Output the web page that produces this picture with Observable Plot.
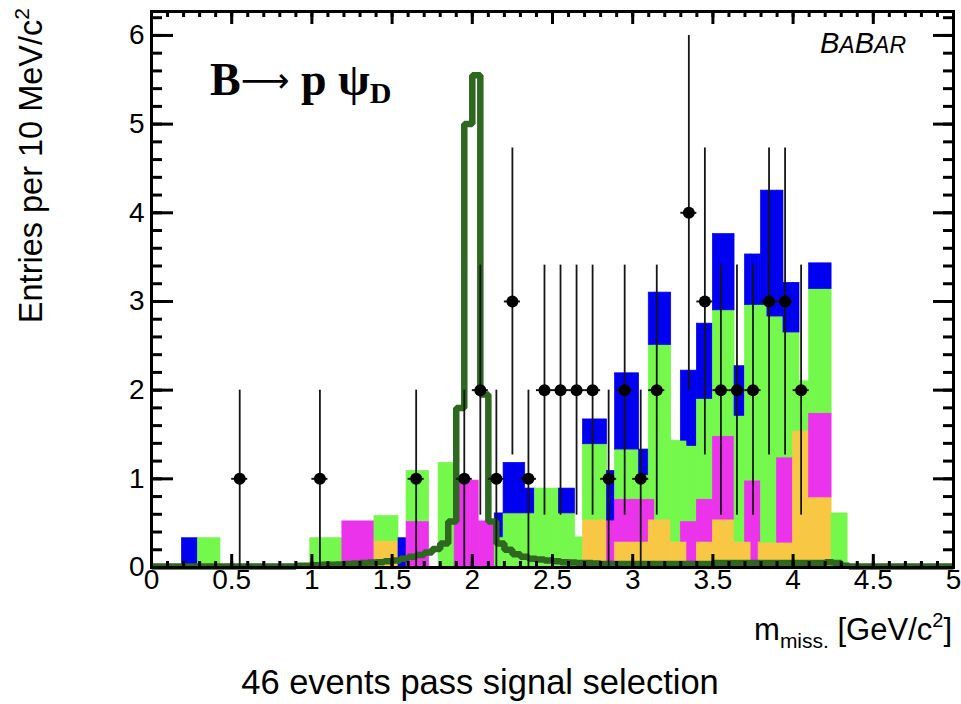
<!DOCTYPE html>
<html><head><meta charset="utf-8">
<script src="https://cdn.jsdelivr.net/npm/d3@7"></script>
<script src="https://cdn.jsdelivr.net/npm/@observablehq/plot@0.6"></script>
<style>body{margin:0;background:#fff;} svg{display:block}</style>
</head><body><div id="chart"></div>
<script>
// ---- Background MC stack (bin edges in GeV/c^2, contents per component) ----
const binLo = [0.19,0.29,0.99,1.19,1.39,1.54,1.59,1.79,1.89,2.04,2.14,2.195,2.33,2.39,2.54,2.64,2.69,2.84,2.89,3.04,3.10,3.14,3.24,3.30,3.34,3.40,3.50,3.635,3.70,3.74,3.785,3.80,3.84,3.90,3.94,4.00,4.04,4.10,4.24];
const binHi = [0.29,0.43,1.19,1.39,1.54,1.59,1.73,1.89,2.04,2.14,2.195,2.33,2.39,2.54,2.64,2.69,2.84,2.89,3.04,3.10,3.14,3.24,3.30,3.34,3.40,3.50,3.635,3.70,3.74,3.785,3.80,3.84,3.90,3.94,4.00,4.04,4.10,4.24,4.34];
const bkgYellow  = [0,0,0,0,0.30,0,0,0,0,0,0,0,0,0,0,0,0.54,0,0.29,0.29,0.54,0.54,0.29,0.29,0,0.29,0.54,0.29,0.29,0,0.29,0.28,0.28,0.28,0.28,1.54,1.54,0.79,0];
const bkgMagenta = [0,0,0,0.52,0,0,0.52,0,0.98,0.52,0,0,0,0,0,0,0,0.53,0.48,0.48,0.23,0,0,0.23,0.52,0.48,0.94,0,0.69,0.98,0.69,0,0,0.96,0.96,0,0,0.95,0];
const bkgGreen   = [0,0.33,0.33,0,0.28,0,0.57,1.18,0,0,0.34,0.61,0.61,0.89,0.61,0.34,0.85,0,0.56,0.27,1.74,1.97,1.14,0.91,0.85,1.13,1.42,1.42,1.98,1.98,1.98,2.68,2.55,1.59,1.41,1.11,0.56,1.40,0.61];
const bkgBlue    = [0.33,0,0,0,0,0.33,0,0,0,0,0.27,0.57,0.28,0,0.28,0,0.28,0.56,0.86,0.29,0.59,0.59,0,0.79,0.85,0.85,0.86,0.56,0.57,0.57,0.57,1.29,1.42,1.42,0.56,0.56,0,0.29,0];

// ---- Data points ----
const dataX   = [0.55,1.05,1.65,1.95,2.05,2.15,2.25,2.35,2.45,2.55,2.65,2.75,2.85,2.95,3.05,3.15,3.35,3.45,3.55,3.65,3.75,3.85,3.95,4.05];
const dataN   = [1,1,1,1,2,1,3,1,2,2,2,2,1,2,1,2,4,3,2,2,2,3,3,2];
const dataErr = [1,1,1,1,1.41,1,1.73,1,1.41,1.41,1.41,1.41,1,1.41,1,1.41,2,1.73,1.41,1.41,1.41,1.73,1.73,1.41];
const dataXErr = 0.05;

// ---- Signal shape B -> p psi_D (bins of 0.05 from 0 to 5) ----
const signalBinWidth = 0.05;
const signalVals = [
  0.01,0.01,0.01,0.01,0.01,0.01,0.01,0.01,0.01,0.01,0.01,0.01,0.01,0.01,0.01,0.01,0.01,0.01,
  0.02,0.02,0.025,0.03,0.03,0.035,0.04,0.045,0.05,0.055,0.06,0.07,0.08,0.10,0.12,0.14,0.17,0.21,0.27,0.52,
  1.80,5.00,5.55,1.95,0.52,0.27,0.20,0.15,0.12,0.10,0.09,0.08,0.07,0.06,0.055,0.05,0.05,0.045,
  0.04,0.04,0.04,0.04,0.04,0.04,0.04,0.04,
  0.04,0.04,0.04,0.04,0.04,0.04,
  0.05,0.05,0.05,0.05,0.05,0.05,0.05,0.05,0.05,0.05,0.05,0.05,0.05,0.05,
  0.06,0.05,0.02,
  0.01,0.01,0.01,0.01,0.01,0.01,0.01,0.01,0.01,0.01,0.01,0.01,0.01
];

// ---- Axis ticks ----
const xTickLabels = [0,0.5,1,1.5,2,2.5,3,3.5,4,4.5,5];
const yTickLabels = [0,1,2,3,4,5,6];
const xMinorTicks = d3.range(0, 5.001, 0.1);
const yMinorTicks = d3.range(0, 6.27, 0.2);

const components = ["bkgA","bkgB","bkgC","bkgD"];
const compColors = ["#f8c844","#ea33ea","#74f84b","#0000f0"];
const compValues = [bkgYellow, bkgMagenta, bkgGreen, bkgBlue];

// build stacked rect table
const rects = [];
binLo.forEach((lo, i) => {
  let cum = 0;
  components.forEach((c, k) => {
    const h = compValues[k][i];
    if (h > 0) { rects.push({x1: lo, x2: binHi[i], y1: cum, y2: cum + h, comp: c}); cum += h; }
  });
});

const sigPts = signalVals.map((v, i) => ({x: i * signalBinWidth, y: v}));
sigPts.push({x: 5, y: signalVals[signalVals.length - 1]});

const points = dataX.map((x, i) => ({x, n: dataN[i], e: dataErr[i]}));

const W = 961, H = 704, mL = 151, mR = 8, mT = 11, mB = 137;
const fw = W - mL - mR, fh = H - mT - mB;

const chart = Plot.plot({
  width: W, height: H,
  marginLeft: mL, marginRight: mR, marginTop: mT, marginBottom: mB,
  style: {fontFamily: "'Liberation Sans', Arial, sans-serif", fontSize: "28px", background: "#fff", color: "#000"},
  x: {domain: [0, 5]},
  y: {domain: [0, 6.27]},
  color: {type: "ordinal", domain: components, range: compColors},
  marks: [
    Plot.rect(rects, {x1: "x1", x2: "x2", y1: "y1", y2: "y2", fill: "comp", stroke: "comp", strokeWidth: 0.7}),
    Plot.line(sigPts, {x: "x", y: "y", curve: "step-after", stroke: "#2e6820", strokeWidth: 6.5, strokeLinejoin: "miter", strokeLinecap: "butt"}),
    Plot.ruleX(points, {x: "x", y1: d => d.n - d.e, y2: d => d.n + d.e, stroke: "#151515", strokeWidth: 1.8}),
    Plot.ruleY(points, {y: "n", x1: d => d.x - dataXErr, x2: d => d.x + dataXErr, stroke: "#151515", strokeWidth: 2}),
    Plot.dot(points, {x: "x", y: "n", r: 6, fill: "#000", stroke: null}),
    // inward ticks
    Plot.tickX(xMinorTicks, {x: d => d, insetTop: fh - 6, stroke: "#000", strokeWidth: 3}),
    Plot.tickX(xTickLabels, {x: d => d, insetTop: fh - 13, stroke: "#000", strokeWidth: 3}),
    Plot.tickX(xMinorTicks, {x: d => d, insetBottom: fh - 6, stroke: "#000", strokeWidth: 3}),
    Plot.tickX(xTickLabels, {x: d => d, insetBottom: fh - 13, stroke: "#000", strokeWidth: 3}),
    Plot.tickY(yMinorTicks, {y: d => d, insetRight: fw - 11, stroke: "#000", strokeWidth: 3}),
    Plot.tickY(yTickLabels, {y: d => d, insetRight: fw - 22, stroke: "#000", strokeWidth: 3}),
    Plot.tickY(yMinorTicks, {y: d => d, insetLeft: fw - 10, stroke: "#000", strokeWidth: 3}),
    Plot.tickY(yTickLabels, {y: d => d, insetLeft: fw - 20, stroke: "#000", strokeWidth: 3}),
    Plot.frame({stroke: "#000", strokeWidth: 3}),
    Plot.axisX({ticks: xTickLabels, tickSize: 0, tickPadding: 2, tickFormat: d => String(d), label: null, fontSize: 28}),
    Plot.axisY({ticks: yTickLabels, tickSize: 0, tickPadding: 7, tickFormat: d => String(d), label: null, fontSize: 28})
  ]
});
document.getElementById("chart").appendChild(chart);

const svg = d3.select(chart);
const sans = "'Liberation Sans', Arial, sans-serif";
const serif = "'Liberation Serif', 'Times New Roman', serif";

// Y title
const yt = svg.append("text")
  .attr("transform", "translate(42,8) rotate(-90)")
  .attr("text-anchor", "end")
  .attr("font-family", sans).attr("font-size", 32.5).attr("fill", "#000");
yt.append("tspan").text("Entries per 10 MeV/c");
yt.append("tspan").attr("font-size", 21).attr("dy", -13).text("2");

// X title
const xt = svg.append("text")
  .attr("x", 952).attr("y", 640)
  .attr("text-anchor", "end")
  .attr("font-family", sans).attr("font-size", 31).attr("fill", "#000");
xt.append("tspan").text("m");
xt.append("tspan").attr("font-size", 21).attr("dy", 8).text("miss.");
xt.append("tspan").attr("dy", -8).text(" [GeV/c");
xt.append("tspan").attr("font-size", 20).attr("dy", -13).text("2");
xt.append("tspan").attr("dy", 13).text("]");

// Signal label
const sl = svg.append("text")
  .attr("x", 210).attr("y", 95)
  .attr("text-anchor", "start")
  .attr("font-family", serif).attr("font-weight", "bold").attr("font-size", 46).attr("fill", "#000");
sl.append("tspan").text("B");
sl.append("tspan").attr("font-family", "'DejaVu Sans', sans-serif").attr("font-weight", "normal").attr("font-size", 34).attr("dy", -3).text("\u27f6");
sl.append("tspan").attr("dy", 3).text(" p \u03c8");
sl.append("tspan").attr("font-size", 30).attr("dy", 8).text("D");

// BaBar logo
const bb = svg.append("text")
  .attr("x", 906).attr("y", 53)
  .attr("text-anchor", "end")
  .attr("font-family", sans).attr("font-style", "italic").attr("fill", "#000");
bb.append("tspan").attr("font-size", 29).text("B");
bb.append("tspan").attr("font-size", 23).text("A");
bb.append("tspan").attr("font-size", 29).text("B");
bb.append("tspan").attr("font-size", 23).text("AR");

// caption
svg.append("text")
  .attr("x", 480).attr("y", 694)
  .attr("text-anchor", "middle")
  .attr("font-family", sans).attr("font-size", 34.5).attr("fill", "#000")
  .text("46 events pass signal selection");
</script>
</body></html>
